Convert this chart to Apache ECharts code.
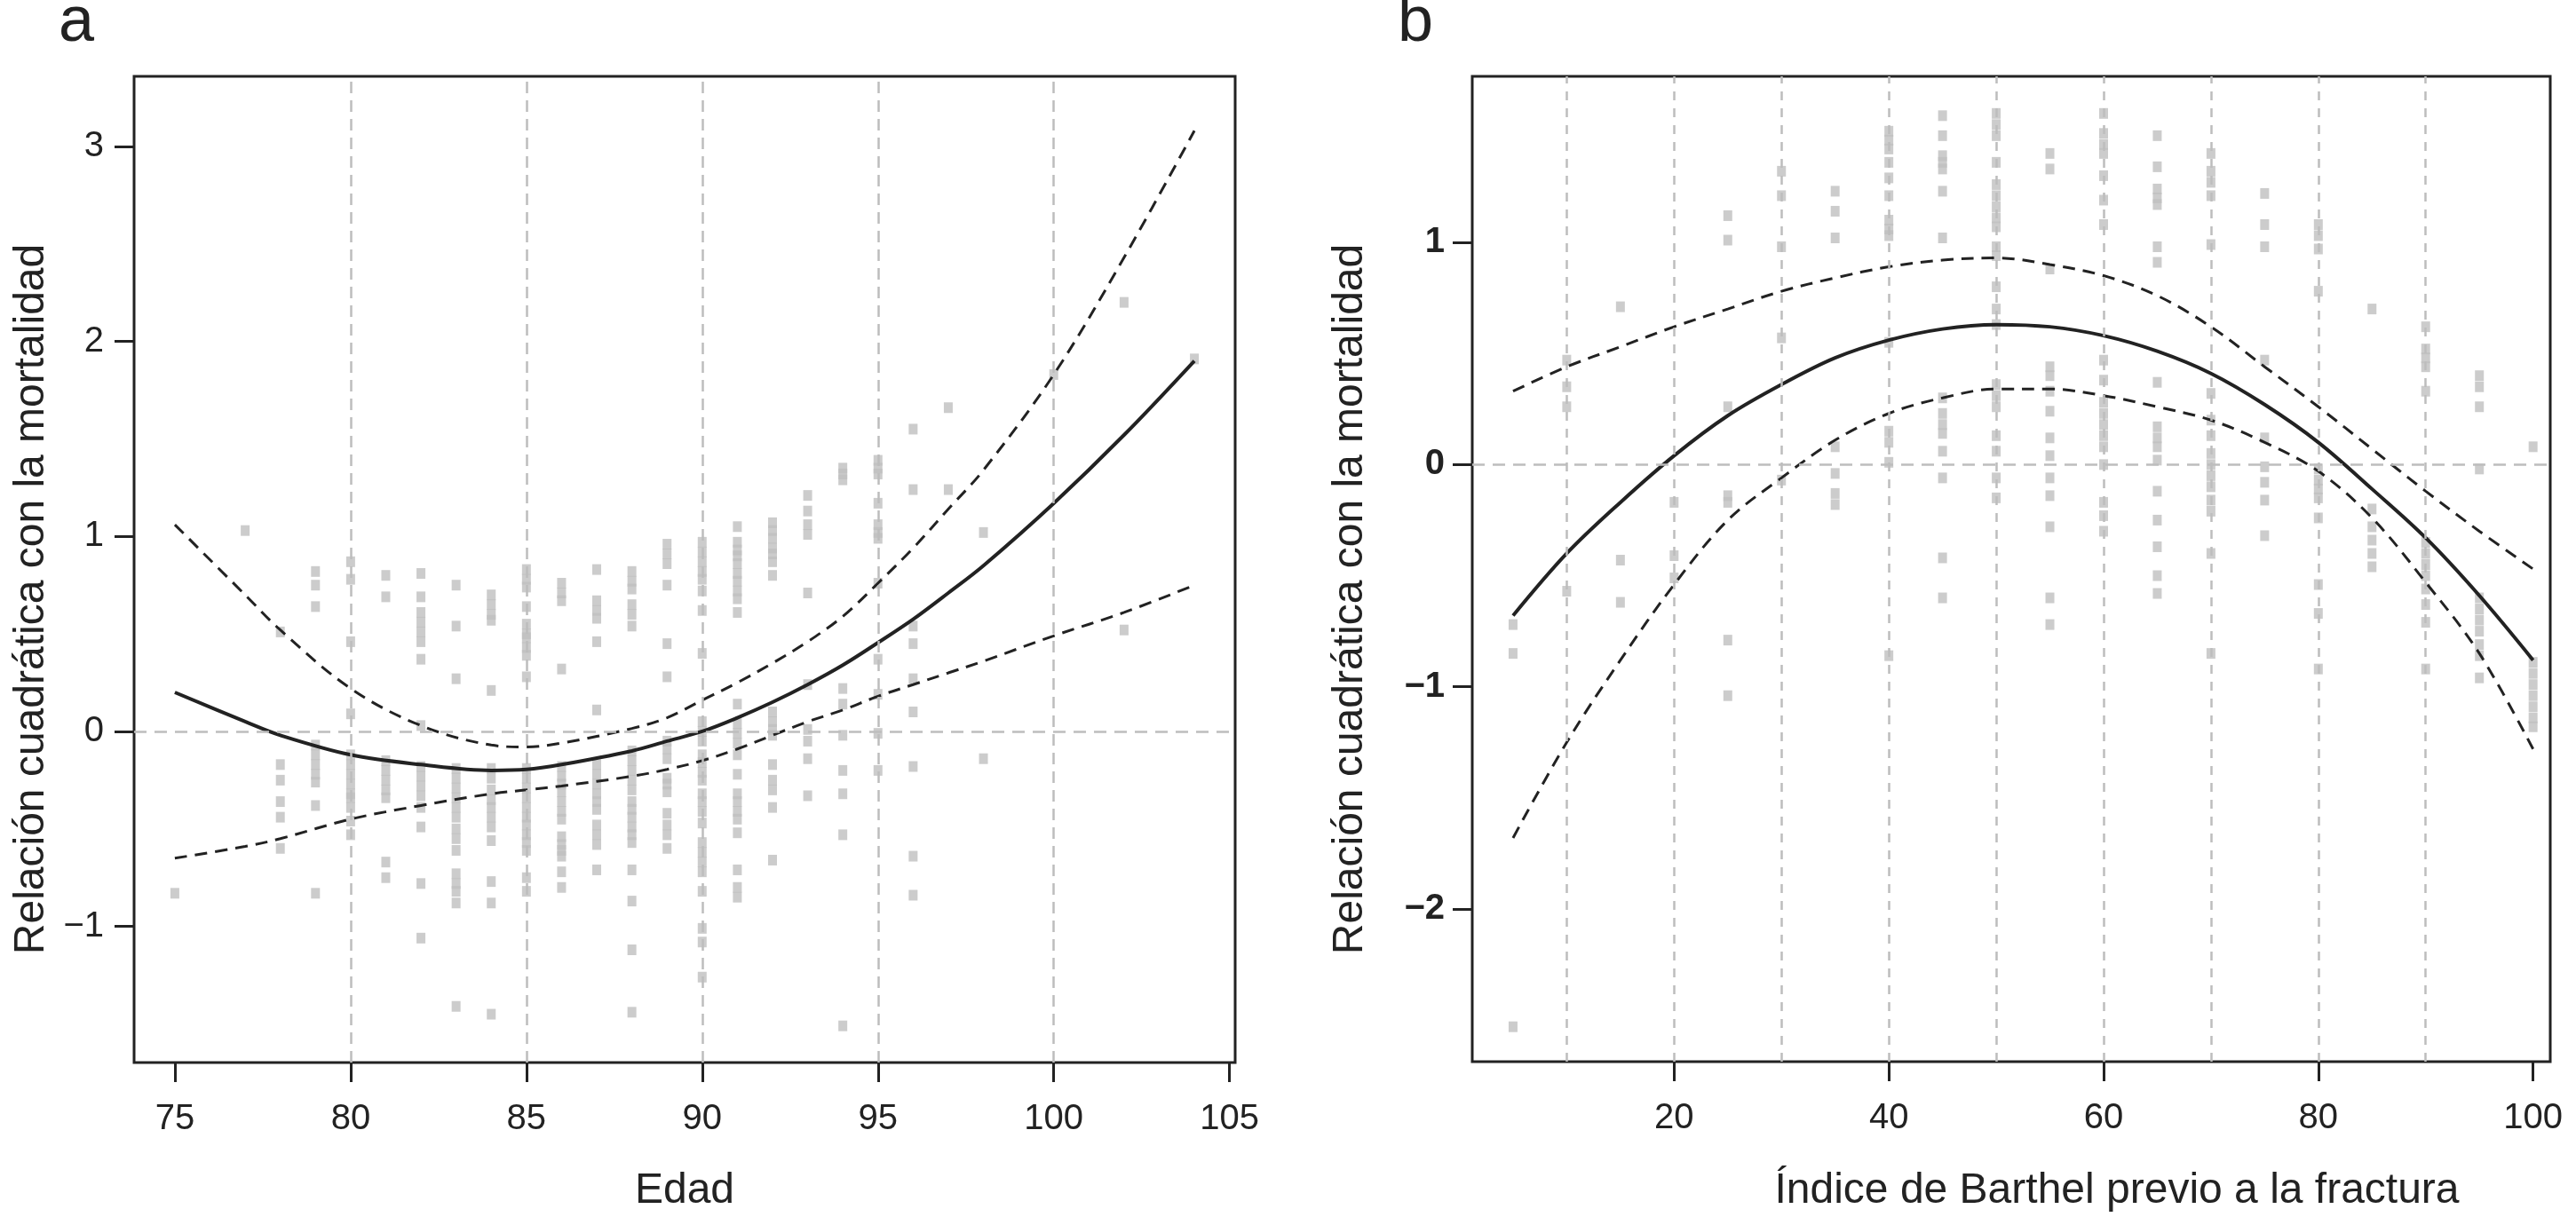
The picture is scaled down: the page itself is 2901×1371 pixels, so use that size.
<!DOCTYPE html>
<html><head><meta charset="utf-8">
<script src="https://cdn.jsdelivr.net/npm/echarts@6/dist/echarts.min.js"></script>
<style>html,body{margin:0;padding:0;background:#fff}#c{width:2901px;height:1371px}</style>
</head><body><div id="c"></div>
<script>
// ---------- Panel a (Edad) ----------
const aTicksX = [75, 80, 85, 90, 95, 100, 105];
const aTicksY = [-1, 0, 1, 2, 3];
const aGridX = [80, 85, 90, 95, 100];
const curveAX = [75, 77, 78, 80, 82, 84, 85, 86, 88, 89, 90, 91, 92, 93, 94, 95, 96, 97, 98, 100, 102, 104];
const fitA   = [0.20, 0.05, -0.02, -0.12, -0.17, -0.20, -0.195, -0.17, -0.10, -0.05, 0.00, 0.07, 0.15, 0.24, 0.34, 0.455, 0.575, 0.71, 0.85, 1.17, 1.52, 1.90];
const upperA = [1.06, 0.70, 0.52, 0.22, 0.03, -0.07, -0.08, -0.06, 0.015, 0.07, 0.16, 0.25, 0.35, 0.46, 0.59, 0.76, 0.94, 1.14, 1.34, 1.83, 2.43, 3.08];
const lowerA = [-0.65, -0.59, -0.55, -0.45, -0.38, -0.32, -0.30, -0.28, -0.23, -0.195, -0.15, -0.09, -0.02, 0.05, 0.11, 0.18, 0.24, 0.30, 0.36, 0.49, 0.61, 0.75];
const colsA = [
  [75, [-0.83]],
  [77, [1.03]],
  [78, [0.51, -0.17, -0.25, -0.36, -0.44, -0.60]],
  [79, [0.82, 0.75, 0.64, -0.07, -0.12, -0.17, -0.22, -0.26, -0.38, -0.83]],
  [80, [0.87, 0.78, 0.46, 0.09, -0.12, -0.17, -0.22, -0.27, -0.32, -0.34, -0.39, -0.46, -0.53]],
  [81, [0.80, 0.69, -0.15, -0.20, -0.25, -0.30, -0.34, -0.67, -0.75]],
  [82, [0.81, 0.69, 0.61, 0.56, 0.51, 0.46, 0.37, 0.03, -0.18, -0.23, -0.28, -0.33, -0.39, -0.49, -0.78, -1.06]],
  [83, [0.75, 0.54, 0.27, -0.19, -0.24, -0.29, -0.34, -0.39, -0.44, -0.50, -0.55, -0.61, -0.73, -0.78, -0.82, -0.88, -1.41]],
  [84, [0.70, 0.65, 0.60, 0.57, 0.21, -0.19, -0.24, -0.30, -0.35, -0.39, -0.44, -0.49, -0.56, -0.77, -0.88, -1.45]],
  [85, [0.83, 0.78, 0.74, 0.64, 0.55, 0.50, 0.48, 0.43, 0.39, 0.28, -0.19, -0.24, -0.29, -0.34, -0.39, -0.44, -0.48, -0.53, -0.57, -0.61, -0.75, -0.82]],
  [86, [0.76, 0.71, 0.67, 0.32, -0.18, -0.23, -0.27, -0.31, -0.36, -0.41, -0.45, -0.54, -0.58, -0.61, -0.64, -0.72, -0.80]],
  [87, [0.83, 0.67, 0.62, 0.58, 0.46, 0.11, -0.17, -0.22, -0.27, -0.32, -0.36, -0.40, -0.48, -0.53, -0.58, -0.71]],
  [88, [0.82, 0.77, 0.73, 0.65, 0.60, 0.54, -0.10, -0.15, -0.20, -0.25, -0.30, -0.36, -0.40, -0.44, -0.49, -0.53, -0.57, -0.71, -0.87, -1.12, -1.44]],
  [89, [0.96, 0.91, 0.86, 0.75, 0.45, 0.28, -0.05, -0.09, -0.14, -0.24, -0.27, -0.31, -0.42, -0.48, -0.53, -0.60]],
  [90, [0.97, 0.92, 0.87, 0.82, 0.78, 0.72, 0.62, 0.40, 0.05, 0.00, -0.05, -0.12, -0.16, -0.21, -0.25, -0.32, -0.36, -0.41, -0.47, -0.57, -0.62, -0.67, -0.72, -0.82, -1.01, -1.08, -1.26]],
  [91, [1.05, 0.97, 0.93, 0.90, 0.86, 0.81, 0.77, 0.72, 0.68, 0.61, 0.14, 0.04, -0.01, -0.06, -0.12, -0.22, -0.32, -0.36, -0.41, -0.45, -0.52, -0.71, -0.80, -0.85]],
  [92, [1.07, 1.03, 0.99, 0.94, 0.91, 0.87, 0.80, 0.10, 0.05, 0.01, -0.02, -0.17, -0.25, -0.30, -0.39, -0.66]],
  [93, [1.21, 1.13, 1.06, 1.01, 0.71, 0.24, 0.01, -0.05, -0.14, -0.33]],
  [94, [1.35, 1.32, 1.29, 0.22, 0.14, -0.02, -0.20, -0.32, -0.53, -1.51]],
  [95, [1.39, 1.35, 1.32, 1.17, 1.06, 1.02, 0.99, 0.76, 0.37, 0.19, -0.01, -0.20]],
  [96, [1.55, 1.24, 0.54, 0.45, 0.27, 0.10, -0.18, -0.64, -0.84]],
  [97, [1.66, 1.24]],
  [98, [1.02, -0.14]],
  [100, [1.83]],
  [102, [2.20, 0.52]],
  [104, [1.91]]
];

// ---------- Panel b (Barthel) ----------
const bTicksX = [20, 40, 60, 80, 100];
const bTicksY = [-2, -1, 0, 1];
const bGridX = [10, 20, 30, 40, 50, 60, 70, 80, 90];
const curveBX = [5, 10, 15, 20, 25, 30, 35, 40, 45, 50, 55, 60, 65, 70, 75, 80, 85, 90, 95, 100];
const fitB   = [-0.68, -0.40, -0.17, 0.04, 0.22, 0.36, 0.48, 0.56, 0.61, 0.63, 0.62, 0.58, 0.51, 0.41, 0.27, 0.10, -0.11, -0.33, -0.59, -0.88];
const upperB = [0.33, 0.44, 0.53, 0.62, 0.70, 0.78, 0.84, 0.89, 0.92, 0.93, 0.90, 0.85, 0.76, 0.62, 0.44, 0.26, 0.07, -0.12, -0.30, -0.47];
const lowerB = [-1.68, -1.25, -0.88, -0.54, -0.25, -0.06, 0.11, 0.23, 0.30, 0.34, 0.34, 0.31, 0.26, 0.20, 0.10, -0.03, -0.24, -0.53, -0.85, -1.28];
const colsB = [
  [5, [-0.72, -0.85, -2.53]],
  [10, [0.47, 0.35, 0.26, -0.57]],
  [15, [0.71, -0.43, -0.62]],
  [20, [-0.17, -0.41, -0.51]],
  [25, [1.12, 1.01, 0.26, -0.14, -0.17, -0.79, -1.04]],
  [30, [1.32, 1.21, 0.98, 0.57, -0.07]],
  [35, [1.23, 1.14, 1.02, 0.08, -0.04, -0.13, -0.18]],
  [40, [1.50, 1.46, 1.42, 1.36, 1.29, 1.21, 1.10, 1.06, 1.03, 0.55, 0.15, 0.10, 0.01, -0.86]],
  [45, [1.57, 1.48, 1.39, 1.36, 1.33, 1.23, 1.02, 0.30, 0.23, 0.18, 0.14, 0.06, -0.06, -0.42, -0.60]],
  [50, [1.58, 1.53, 1.48, 1.36, 1.26, 1.21, 1.16, 1.11, 1.07, 0.98, 0.94, 0.80, 0.70, 0.63, 0.36, 0.31, 0.26, 0.13, 0.06, -0.06, -0.15]],
  [55, [1.40, 1.33, 0.88, 0.44, 0.40, 0.33, 0.24, 0.12, 0.04, -0.06, -0.14, -0.28, -0.60, -0.72]],
  [60, [1.58, 1.49, 1.44, 1.40, 1.30, 1.19, 1.08, 0.47, 0.38, 0.28, 0.23, 0.18, 0.13, 0.08, 0.00, -0.17, -0.23, -0.30]],
  [65, [1.48, 1.34, 1.24, 1.20, 1.17, 0.98, 0.91, 0.37, 0.17, 0.12, 0.08, 0.02, -0.12, -0.25, -0.37, -0.50, -0.58]],
  [70, [1.40, 1.32, 1.27, 1.21, 0.99, 0.32, 0.20, 0.13, 0.05, 0.00, -0.05, -0.10, -0.16, -0.21, -0.40, -0.85]],
  [75, [1.22, 1.08, 0.98, 0.47, 0.12, -0.01, -0.08, -0.16, -0.32]],
  [80, [1.08, 1.03, 0.97, 0.78, -0.02, -0.07, -0.11, -0.15, -0.24, -0.54, -0.67, -0.92]],
  [85, [0.70, -0.20, -0.28, -0.34, -0.40, -0.46]],
  [90, [0.62, 0.52, 0.48, 0.44, 0.33, -0.35, -0.40, -0.45, -0.50, -0.56, -0.63, -0.71, -0.92]],
  [95, [0.40, 0.35, 0.26, -0.02, -0.60, -0.65, -0.70, -0.75, -0.81, -0.86, -0.96]],
  [100, [0.08, -0.89, -0.94, -0.99, -1.04, -1.09, -1.14, -1.18]]
];

// ---------- build ----------
const FONT = "'Liberation Sans', Arial, Helvetica, sans-serif";
const INK = '#222';
const PT = '#bfbfbf';
const flat = cols => cols.flatMap(([x, ys]) => ys.map(y => [x, y]));
const zip = (xs, ys) => xs.map((x, i) => [x, ys[i]]);
const minus = v => String(v).replace('-', '\u2212');

function xAxisCfg(idx, min, max, ticks) {
  return {
    type: 'value', gridIndex: idx, min: min, max: max,
    axisLine: { show: false, onZero: false },
    splitLine: { show: false },
    axisTick: { show: true, length: 22, customValues: ticks, lineStyle: { color: INK, width: 3 } },
    axisLabel: { customValues: ticks, margin: 44, fontSize: 40, color: INK, fontFamily: FONT }
  };
}
function yAxisCfg(idx, min, max, ticks, bold) {
  return {
    type: 'value', gridIndex: idx, min: min, max: max,
    axisLine: { show: false, onZero: false },
    splitLine: { show: false },
    axisTick: { show: true, length: 22, customValues: ticks, lineStyle: { color: INK, width: 3 } },
    axisLabel: { customValues: ticks, margin: idx === 0 ? 34 : 31, fontSize: 40, color: INK, fontFamily: FONT,
                 fontWeight: bold ? 'bold' : 'normal', formatter: minus }
  };
}
function gridSeries(idx, gx, vDash) {
  const data = gx.map(v => ({ xAxis: v, lineStyle: { type: vDash } }));
  data.push({ yAxis: 0, lineStyle: { type: [14, 9] } });
  return {
    type: 'line', xAxisIndex: idx, yAxisIndex: idx, data: [], z: 1, silent: true,
    markLine: { symbol: ['none', 'none'], silent: true, animation: false,
      label: { show: false }, lineStyle: { color: '#bdbdbd', width: 2.5 }, data: data }
  };
}
function scatter(idx, pts) {
  return { type: 'scatter', xAxisIndex: idx, yAxisIndex: idx, data: pts, z: 2, silent: true,
    symbol: 'rect', symbolSize: [10, 12], itemStyle: { color: PT } };
}
function curve(idx, pts, dashed) {
  return { type: 'line', xAxisIndex: idx, yAxisIndex: idx, data: pts, z: 3, silent: true,
    showSymbol: false, symbol: 'none', smooth: 0.35,
    lineStyle: dashed ? { color: INK, width: 3, type: [14, 9] } : { color: INK, width: 4 } };
}
function txt(x, y, s, size, rot) {
  return { type: 'text', x: x, y: y, rotation: rot || 0, silent: true,
    style: { text: s, fontSize: size, fontFamily: FONT, fill: INK, align: 'center', verticalAlign: 'middle' } };
}

const chart = echarts.init(document.getElementById('c'), null, { renderer: 'canvas' });
chart.setOption({
  animation: false,
  backgroundColor: '#fff',
  grid: [
    { left: 151, top: 86, width: 1240, height: 1111, show: true, borderColor: INK, borderWidth: 3, backgroundColor: 'transparent' },
    { left: 1658, top: 86, width: 1214, height: 1110, show: true, borderColor: INK, borderWidth: 3, backgroundColor: 'transparent' }
  ],
  xAxis: [ xAxisCfg(0, 73.84, 105.16, aTicksX), xAxisCfg(1, 1.2, 101.6, bTicksX) ],
  yAxis: [ yAxisCfg(0, -1.698, 3.359, aTicksY, false), yAxisCfg(1, -2.687, 1.747, bTicksY, true) ],
  series: [
    gridSeries(0, aGridX, [13, 8]),
    scatter(0, flat(colsA)),
    curve(0, zip(curveAX, fitA), false),
    curve(0, zip(curveAX, upperA), true),
    curve(0, zip(curveAX, lowerA), true),
    gridSeries(1, bGridX, [10, 9]),
    scatter(1, flat(colsB)),
    curve(1, zip(curveBX, fitB), false),
    curve(1, zip(curveBX, upperB), true),
    curve(1, zip(curveBX, lowerB), true)
  ],
  graphic: [
    txt(86, 26, 'a', 72),
    txt(1594, 26, 'b', 72),
    txt(771, 1342, 'Edad', 48),
    txt(2384, 1342, '\u00cdndice de Barthel previo a la fractura', 48),
    txt(36, 675, 'Relaci\u00f3n cuadr\u00e1tica con la mortalidad', 48, Math.PI / 2),
    txt(1521, 675, 'Relaci\u00f3n cuadr\u00e1tica con la mortalidad', 48, Math.PI / 2)
  ]
});
</script></body></html>
